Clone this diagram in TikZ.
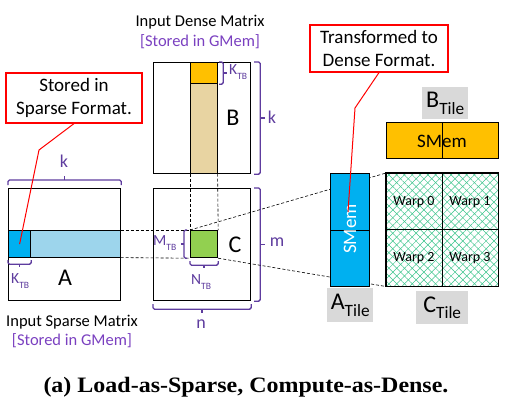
\documentclass[tikz,border=0pt]{standalone}
\usepackage{fontspec}
\usepackage{graphicx}
\setmainfont{Carlito}
\newfontfamily\capfont{Liberation Serif}
\usetikzlibrary{calc,patterns.meta}
\definecolor{purp}{HTML}{5E3C9E}
\definecolor{purpl}{HTML}{7A40C0}
\definecolor{orng}{HTML}{FFC000}
\definecolor{tanc}{HTML}{E8D4A2}
\definecolor{blu}{HTML}{00B0F0}
\definecolor{lblu}{HTML}{9DD5EC}
\definecolor{grn}{HTML}{92D050}
\definecolor{hatch}{HTML}{3CC48C}
\definecolor{gry}{HTML}{D9D9D9}
\newcommand\sbt[1]{\raisebox{-0.3em}{\scalebox{0.62}{#1}}}
\newcommand\sbtile[1]{\raisebox{-0.28em}{\scalebox{0.72}{#1}}}
% bracket: #1 start, #2 end, #3 name, #4 leg start, #5 bar offset, #6 tick end
\newcommand\bracket[6]{%
  \coordinate (#3m) at ($(#1)!0.5!(#2)$);
  \draw[brk,rounded corners=1.5pt] ($(#1)!#4!90:(#2)$) -- ($(#1)!#5!90:(#2)$)
     -- ($(#2)!#5!-90:(#1)$) -- ($(#2)!#4!-90:(#1)$);
  \draw[brk] ($(#3m)!#5!90:(#2)$) -- ($(#3m)!#6!90:(#2)$);
}
\begin{document}
\begin{tikzpicture}[x=1pt,y=-1pt,
  box/.style={draw=black,line width=1.2pt,inner sep=0pt,anchor=north west},
  thinbox/.style={draw=black,line width=0.6pt,inner sep=0pt,anchor=north west},
  brk/.style={draw=purp,line width=1.3pt},
  plab/.style={text=purp,inner sep=0pt,font=\fontsize{18}{20}\selectfont},
  slab/.style={text=purp,inner sep=0pt,font=\fontsize{15.5}{18}\selectfont},
  big/.style={inner sep=0pt,font=\fontsize{24}{26}\selectfont},
  mcap/.style={inner sep=0pt,font=\fontsize{16.5}{19}\selectfont},
  callout/.style={draw=red,line width=1.2pt,fill=white,align=center,inner sep=0pt,
    font=\fontsize{19}{23}\selectfont},
  redl/.style={draw=red,line width=1pt},
  dsh/.style={draw=black,line width=0.6pt,dash pattern=on 3pt off 2pt},
  glab/.style={fill=gry,inner sep=0pt,anchor=north west},
  warp/.style={inner sep=0pt,font=\fontsize{14}{16}\selectfont}
]
\useasboundingbox (0,0) rectangle (511,416);

% ---------- matrix A ----------
\node[box,minimum width=112pt,minimum height=112pt] (A) at (8,188) {};
\node[thinbox,fill=lblu,minimum width=90pt,minimum height=27pt] (As) at (30,230) {};
\node[box,fill=blu,minimum width=22pt,minimum height=27pt] (Ab) at (8,230) {};
\node[big] (Alab) at (65,278) {A};

% ---------- matrix B ----------
\node[box,minimum width=97pt,minimum height=111pt] (B) at (153,62) {};
\node[thinbox,fill=tanc,minimum width=27pt,minimum height=90pt] (Bs) at (190,83) {};
\node[box,fill=orng,minimum width=27pt,minimum height=21pt] (Bb) at (190,62) {};
\node[big] (Blab) at (233,118) {B};

% ---------- matrix C ----------
\node[box,minimum width=97pt,minimum height=112pt] (C) at (153,188) {};
\node[box,fill=grn,minimum width=27pt,minimum height=27pt] (Cb) at (190,230) {};
\node[big] (Clab) at (235,245) {C};

% dashed guides
\draw[dsh] (Bs.south west) -- (Cb.north west);
\draw[dsh] (Bs.south east) -- (Cb.north east);
\draw[dsh] (As.north east) -- (Cb.north west);
\draw[dsh] (As.south east) -- (Cb.south west);

% ---------- brackets ----------
\bracket{A.north west}{A.north east}{bkA}{3pt}{8pt}{12pt}
\node[plab] (kA) at (64,161) {k};
\bracket{Ab.south east}{Ab.south west}{bKA}{2pt}{6pt}{9pt}
\node[slab,anchor=west] (KA) at (11,281) {K\sbt{TB}};
\bracket{Bb.north east}{Bb.south east}{bKB}{1pt}{5pt}{9pt}
\node[slab,anchor=west] (KB) at (229,72) {K\sbt{TB}};
\bracket{B.north east}{B.south east}{bkB}{3pt}{9pt}{14pt}
\node[plab] (kB) at (272,117) {k};
\bracket{C.north east}{C.south east}{bmC}{3pt}{9pt}{14pt}
\node[plab] (mC) at (277,242) {m};
\bracket{Cb.south west}{Cb.north west}{bMC}{3pt}{6pt}{9pt}
\node[slab,anchor=west] (MC) at (153,243) {M\sbt{TB}};
\bracket{Cb.south east}{Cb.south west}{bNC}{3pt}{7pt}{10pt}
\node[slab,anchor=west] (NC) at (191,282) {N\sbt{TB}};
\bracket{C.south east}{C.south west}{bnC}{3pt}{8pt}{12pt}
\node[plab] (nC) at (201,324) {n};

% ---------- captions of matrices ----------
\node[mcap] (dense1) at (200,22) {Input Dense Matrix};
\node[mcap,text=purpl] (dense2) at (200,42) {[Stored in GMem]};
\node[mcap] (sparse1) at (72,322) {Input Sparse Matrix};
\node[mcap,text=purpl] (sparse2) at (72,341) {[Stored in GMem]};

% ---------- tiles ----------
\node[box,minimum width=112pt,minimum height=113pt,fill=white,
  pattern={Lines[angle=45,distance=5.5pt,line width=0.5pt]},pattern color=hatch] (Ct) at (386,173) {};
\fill[pattern={Lines[angle=-45,distance=5.5pt,line width=0.5pt]},pattern color=hatch]
  (Ct.north west) rectangle (Ct.south east);
\draw[line width=1.2pt] (Ct.north west) rectangle (Ct.south east);
\draw[line width=0.7pt] (Ct.north) -- (Ct.south);
\draw[line width=0.7pt] (Ct.west) -- (Ct.east);
\node[warp] (w0) at (414,202) {Warp 0};
\node[warp] (w1) at (470,202) {Warp 1};
\node[warp] (w2) at (414,258) {Warp 2};
\node[warp] (w3) at (470,258) {Warp 3};

\draw[dsh] (Cb.north west) -- (Ct.north west);
\draw[dsh] (Cb.south east) -- (Ct.south west);

\node[box,fill=blu,minimum width=39pt,minimum height=113pt] (At) at (330,173) {};
\draw[line width=0.7pt] (At.west) -- (At.east);
\node[rotate=90,text=white,inner sep=0pt,font=\fontsize{19}{22}\selectfont] (Asm) at (350,229) {SMem};

\node[box,fill=orng,minimum width=112pt,minimum height=36pt] (Bt) at (386,122) {};
\draw[line width=0.7pt] (Bt.north) -- (Bt.south);
\node[inner sep=0pt,font=\fontsize{19}{22}\selectfont] (Bsm) at (442,141) {SMem};

\node[glab,minimum width=46pt,minimum height=34pt] (Atl) at (327,288) {};
\node[big] (Att) at (Atl.center) {A\sbtile{Tile}};
\node[glab,minimum width=52pt,minimum height=33pt] (Ctl) at (416,291) {};
\node[big] (Ctt) at (Ctl.center) {C\sbtile{Tile}};
\node[glab,minimum width=46pt,minimum height=32pt] (Btl) at (422,87) {};
\node[big] (Btt) at (Btl.center) {B\sbtile{Tile}};

% ---------- callouts ----------
\node[callout,minimum width=136pt,minimum height=50pt] (co1) at (74,98) {Stored in\\Sparse Format.};
\coordinate (co1b) at (39,150);
\draw[redl] (co1.south) -- (co1b) -- (Ab.center);

\node[callout,minimum width=138pt,minimum height=47pt] (co2) at (379,48.5) {Transformed to\\Dense Format.};
\coordinate (co2b) at (355,108);
\coordinate (co2e) at (348,212);
\draw[redl] (co2.south) -- (co2b) -- (co2e);

% ---------- figure caption ----------
\node[inner sep=0pt,font=\capfont\bfseries\fontsize{22}{24}\selectfont] (fig) at (246,387)
  {\scalebox{1.09}[1]{(a) Load-as-Sparse, Compute-as-Dense.}};
\end{tikzpicture}
\end{document}
